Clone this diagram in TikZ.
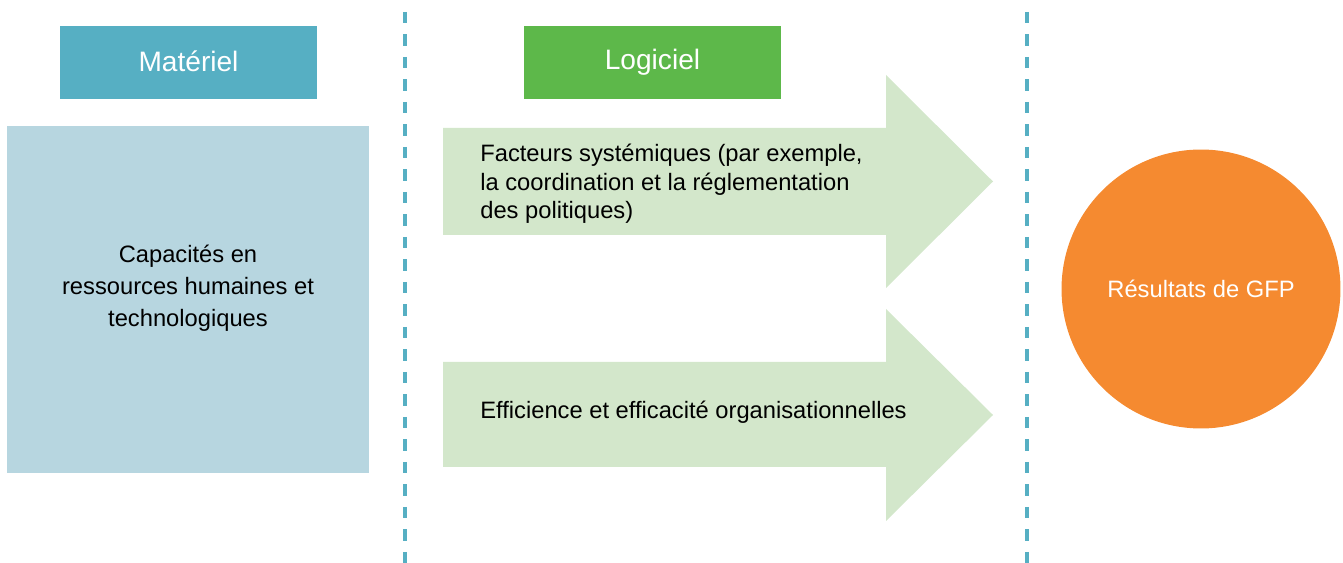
\documentclass[tikz,border=0pt]{standalone}
\usepackage{fontspec}
\setmainfont{Liberation Sans}
\usepackage{tikz}
\usetikzlibrary{positioning}
\definecolor{matblue}{HTML}{56AFC3}
\definecolor{capblue}{HTML}{B7D6E0}
\definecolor{loggreen}{HTML}{5DB84A}
\definecolor{arrgreen}{HTML}{D3E7CB}
\definecolor{gfporange}{HTML}{F58A30}
\definecolor{sepblue}{HTML}{56AFC3}
\tikzset{
	headbox/.style = {minimum width = 5.14cm, minimum height = 1.46cm, inner sep = 0pt, text = white, font = \fontsize{16}{19}\selectfont},
	bodytext/.style = {font = \fontsize{13.5}{16.2}\selectfont, inner sep = 0pt},
	separator/.style = {sepblue, line width = 2pt, dash pattern = on 0.23cm off 0.22cm}
}

\begin{document}
\begin{tikzpicture} [x = 0.02cm, y = -0.02cm]
	\useasboundingbox (0,0) rectangle (1343,563);
	% column separators
	\draw [separator] (405,12) -- (405,563);
	\draw [separator] (1027,12) -- (1027,563);
	% headers
	\node [headbox, fill = matblue] (materiel) at (188.5,62.5) {\raisebox{1pt}{Matériel}};
	\node [headbox, fill = loggreen] (logiciel) at (652.5,62.5) {\raisebox{1pt}{Logiciel}};
	% left box
	\fill [capblue] (7,126) rectangle (369,473);
	\node [bodytext, align = center, font = \fontsize{13.5}{18.2}\selectfont] (capacites) at (188,288) {Capacités en\\ressources humaines et\\technologiques};
	% arrows
	\fill [arrgreen] (443,128) -- (886,128) -- (886,75) -- (993,181.5) -- (886,288) -- (886,235) -- (443,235) -- cycle;
	\fill [arrgreen] (443,362) -- (886,362) -- (886,309) -- (993,415) -- (886,521) -- (886,467) -- (443,467) -- cycle;
	\node [bodytext, anchor = west, align = left] (facteurs) at (480,184) {Facteurs systémiques (par exemple,\\la coordination et la réglementation\\des politiques)};
	\node [bodytext, anchor = west, align = left] (efficience) at (480,412) {Efficience et efficacité organisationnelles};
	% outcome
	\node [circle, fill = gfporange, minimum size = 5.58cm, inner sep = 0pt, text = white, bodytext] (gfp) at (1201,289) {Résultats de GFP};
\end{tikzpicture}
\end{document}
